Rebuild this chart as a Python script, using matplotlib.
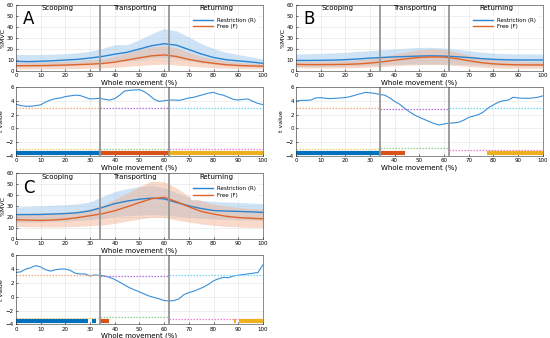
import numpy as np
import matplotlib.pyplot as plt

# x grids
x_emg = list(range(0, 101, 5))
x_t = list(range(0, 101, 2))

# panel A - %MVC (mean and +/- SD band)
a_r_mean = [8.8, 8.5, 8.8, 9.3, 10, 10.6, 11.8, 13.2, 15.3, 17, 20, 23, 24.8, 23.5, 19.5, 15.5, 12.3, 10.3, 9.2, 8.2, 7]
a_r_up = [15, 15, 15, 15.3, 15.8, 16.5, 18, 20.5, 24, 24, 28.5, 34, 38.5, 36.5, 31, 25, 20.5, 17, 15, 13, 11]
a_r_lo = [4, 3.8, 4, 4.3, 4.8, 5.3, 6, 7, 8.2, 9, 10.5, 11.8, 12.2, 11.5, 9.5, 7.5, 6, 5, 4.5, 4, 3.5]
a_f_mean = [4.8, 4.8, 4.9, 5.1, 5.4, 5.8, 6.2, 6.8, 8, 10, 12, 13.8, 14.6, 13.2, 10.5, 8.5, 7, 5.7, 5, 4.6, 4.3]
a_f_up = [8, 8, 8.2, 8.5, 8.8, 9.3, 10, 11, 13.5, 16.5, 19.5, 22, 23, 21, 17, 13.5, 11, 9, 8, 7.2, 6.5]
a_f_lo = [1.8, 1.8, 1.9, 2, 2.1, 2.3, 2.5, 2.8, 3.3, 4.2, 5, 5.8, 6.2, 5.5, 4.5, 3.6, 3, 2.5, 2.2, 2, 1.8]

# panel B
b_r_mean = [9.6, 9.6, 9.7, 9.9, 10.3, 10.9, 11.7, 12.3, 12.8, 13.2, 13.6, 13.8, 13.6, 13, 12.2, 11.3, 10.6, 10.2, 10, 10, 10]
b_r_up = [15.5, 15.7, 16, 16.5, 17, 17.8, 18.5, 19.3, 20, 20.8, 21.5, 21.5, 20.8, 19.8, 18.5, 17.2, 16.3, 15.8, 15.5, 15.5, 15.5]
b_r_lo = [4, 4, 4, 4.2, 4.5, 4.8, 5.2, 5.6, 6, 6.2, 6.2, 6.3, 6.2, 6, 5.8, 5.4, 5, 4.8, 4.6, 4.5, 4.5]
b_f_mean = [6, 5.8, 5.8, 5.9, 6, 6.4, 7.2, 8.3, 9.8, 11.2, 12.3, 12.8, 12.6, 11.3, 9.3, 7.6, 6.5, 5.9, 5.6, 5.5, 5.5]
b_f_up = [9, 9, 9, 9.2, 9.5, 10, 11.2, 13, 15.3, 17.5, 19.2, 20, 19.5, 17.3, 14.5, 12, 10.5, 9.5, 9, 8.7, 8.5]
b_f_lo = [3, 2.8, 2.8, 2.8, 2.9, 3.1, 3.5, 4, 4.7, 5.3, 5.8, 6, 5.8, 5, 4.2, 3.4, 2.8, 2.5, 2.4, 2.4, 2.4]

# panel C
c_r_mean = [22.5, 22.5, 22.6, 23, 23.4, 24.2, 26, 29, 32.5, 34.8, 36.5, 37.5, 36.8, 33.5, 30.5, 28, 26.2, 25.7, 25.4, 25, 24.5]
c_r_up = [29.5, 30, 30.5, 31, 31.5, 32.3, 34, 39, 43.5, 46, 48, 49, 47, 42.5, 38, 35.5, 34.5, 34, 33.5, 33, 32.5]
c_r_lo = [15.5, 15.5, 15.8, 16.2, 16.6, 17.2, 18, 19, 20.5, 21.5, 22, 22.5, 22, 21, 20, 19.2, 18.6, 18.2, 17.8, 17.5, 17.2]
c_f_mean = [17.8, 17.5, 17.2, 17.6, 18.3, 19.8, 21.5, 23.3, 26, 29.6, 33.4, 37, 38.2, 34.3, 29.6, 25.4, 23, 21, 19.8, 19.2, 18.6]
c_f_up = [23.7, 24, 24.2, 24.4, 24.8, 25.8, 27.5, 31, 36.4, 42, 48, 53, 52.5, 46.7, 39.3, 35, 32, 30.2, 29, 28, 27.5]
c_f_lo = [11.8, 11.5, 11.2, 11.2, 11.3, 11.8, 12.4, 13, 14.5, 16.6, 18.5, 20, 19.8, 17.5, 15.7, 14, 12.7, 11.8, 11.2, 10.8, 10.6]

# t values (SPM)
a_t = [3.5, 3.3, 3.2, 3.2, 3.3, 3.4, 3.8, 4.1, 4.3, 4.4, 4.6, 4.7, 4.8, 4.75, 4.5, 4.25, 4.3, 4.35, 4.2, 4.1,
       4.3, 4.8, 5.4, 5.5, 5.55, 5.6, 5.3, 4.8, 4.2, 3.9, 4.0, 4.1, 4.1, 4.05, 4.2, 4.4, 4.5, 4.7, 4.9, 5.1,
       5.2, 4.95, 4.8, 4.5, 4.2, 4.1, 4.2, 4.25, 3.9, 3.6, 3.45]
b_t = [3.95, 4.05, 4.05, 4.1, 4.4, 4.45, 4.35, 4.3, 4.35, 4.4, 4.45, 4.6, 4.8, 5.0, 5.2, 5.15, 5.05, 4.9, 4.8, 4.4,
       3.9, 3.5, 2.9, 2.4, 1.95, 1.6, 1.3, 1.0, 0.7, 0.5, 0.65, 0.75, 0.8, 0.9, 1.2, 1.6, 1.8, 2.0, 2.4, 3.0,
       3.4, 3.8, 4.0, 4.1, 4.5, 4.4, 4.35, 4.35, 4.4, 4.5, 4.7]
c_t = [3.5, 3.6, 4.0, 4.2, 4.5, 4.3, 3.9, 3.7, 3.9, 4.0, 4.0, 3.8, 3.4, 3.3, 3.3, 3.0, 3.15, 3.1, 3.0, 2.8,
       2.5, 2.1, 1.7, 1.3, 1.0, 0.7, 0.4, 0.1, -0.1, -0.3, -0.55, -0.6, -0.55, -0.3, 0.3, 0.6, 0.8, 1.1, 1.4, 1.8,
       2.3, 2.6, 2.8, 2.75, 3.0, 3.1, 3.2, 3.3, 3.4, 3.5, 4.6]

# critical thresholds per phase (scooping, transporting, returning)
a_thr_up = [2.9, 2.9, 3.0]
a_thr_lo = [-2.9, -2.95, -2.95]
b_thr_up = [3.0, 2.85, 3.0]
b_thr_lo = [-2.95, -2.8, -3.1]
c_thr_up = [3.1, 2.95, 3.15]
c_thr_lo = [-3.1, -2.95, -3.2]

# significant clusters (start, end, phase index)
a_sig = [(0, 34, 0), (34, 62, 1), (62, 100, 2)]
b_sig = [(0, 34, 0), (34, 44.3, 1), (77.4, 100, 2)]
c_sig = [(0, 29.3, 0), (30.9, 32.4, 0), (34, 37.8, 1), (88.3, 89.1, 2), (90.4, 100, 2)]

phase_edges = [0, 34, 62, 100]
phase_names = ['Scooping', 'Transporting', 'Returning']

BLUE = '#0072BD'
ORANGE = '#D95319'
YELLOW = '#EDB120'
bar_colors = [BLUE, ORANGE, YELLOW]
thr_up_colors = ['#F5A77E', '#B36AE2', '#6FD8F0']
thr_lo_colors = ['#F0D060', '#8CD08C', '#F07CD4']

plt.rcParams['font.family'] = 'DejaVu Sans'
fig = plt.figure(figsize=(5.5, 3.38), dpi=100)


def style(ax):
    ax.set_xlim(0, 100)
    ax.set_xticks(range(0, 101, 10))
    ax.tick_params(labelsize=4, length=1.5, width=0.4, direction='in', pad=1.5)
    ax.grid(True, color='#e3e3e3', lw=0.4)
    ax.set_axisbelow(True)
    for s in ax.spines.values():
        s.set_linewidth(0.4)
        s.set_color('#333333')


def draw_panel(left, top_upper, letter, r_mean, r_up, r_lo, f_mean, f_up, f_lo,
               tvals, thr_up, thr_lo, sig):
    w = 0.449
    h = 0.195
    ax1 = fig.add_axes([left, top_upper - h, w, h])
    ax1.fill_between(x_emg, r_lo, r_up, color='#a8cdef', alpha=0.55, lw=0)
    ax1.fill_between(x_emg, f_lo, f_up, color='#f2ae8a', alpha=0.45, lw=0)
    ax1.plot(x_emg, r_mean, color='#2a84d2', lw=1.0, label='Restriction (R)')
    ax1.plot(x_emg, f_mean, color='#e0642a', lw=1.0, label='Free (F)')
    ax1.set_ylim(0, 60)
    ax1.set_yticks(range(0, 61, 10))
    style(ax1)
    for xv in phase_edges[1:3]:
        ax1.axvline(xv, color='#959595', lw=1.3)
    for i, name in enumerate(phase_names):
        ax1.text((phase_edges[i] + phase_edges[i + 1]) / 2, 57, name,
                 ha='center', va='center', fontsize=5)
    ax1.text(3, 47, letter, fontsize=12, ha='left', va='center')
    ax1.set_ylabel('%MVC', fontsize=4.5, labelpad=1)
    ax1.set_xlabel('Whole movement (%)', fontsize=5, labelpad=1)
    ax1.legend(loc='upper right', bbox_to_anchor=(0.99, 0.87), fontsize=4,
               frameon=True, facecolor='white', edgecolor='white', framealpha=1,
               handlelength=3.6, borderpad=0.3, labelspacing=0.2)

    ax2 = fig.add_axes([left, top_upper - h - 0.047 - 0.205, w, 0.205])
    ax2.plot(x_t, tvals, color='#3a8fd8', lw=0.8)
    for i in range(3):
        ax2.plot([phase_edges[i], phase_edges[i + 1]], [thr_up[i]] * 2,
                 ls=(0, (1.2, 1.2)), color=thr_up_colors[i], lw=0.9)
        ax2.plot([phase_edges[i], phase_edges[i + 1]], [thr_lo[i]] * 2,
                 ls=(0, (1.2, 1.2)), color=thr_lo_colors[i], lw=0.9)
    for s0, s1, k in sig:
        ax2.plot([s0, s1], [-3.5, -3.5], color=bar_colors[k], lw=3, solid_capstyle='butt')
    for xv in phase_edges[1:3]:
        ax2.axvline(xv, color='#959595', lw=1.3)
    ax2.set_ylim(-4, 6)
    ax2.set_yticks(range(-4, 7, 2))
    style(ax2)
    ax2.set_ylabel('t value', fontsize=4.5, labelpad=1)
    ax2.set_xlabel('Whole movement (%)', fontsize=5, labelpad=1)


draw_panel(0.029, 0.985, 'A', a_r_mean, a_r_up, a_r_lo, a_f_mean, a_f_up, a_f_lo,
           a_t, a_thr_up, a_thr_lo, a_sig)
draw_panel(0.538, 0.985, 'B', b_r_mean, b_r_up, b_r_lo, b_f_mean, b_f_up, b_f_lo,
           b_t, b_thr_up, b_thr_lo, b_sig)
draw_panel(0.029, 0.487, 'C', c_r_mean, c_r_up, c_r_lo, c_f_mean, c_f_up, c_f_lo,
           c_t, c_thr_up, c_thr_lo, c_sig)

fig.savefig('out.png', dpi=100)
